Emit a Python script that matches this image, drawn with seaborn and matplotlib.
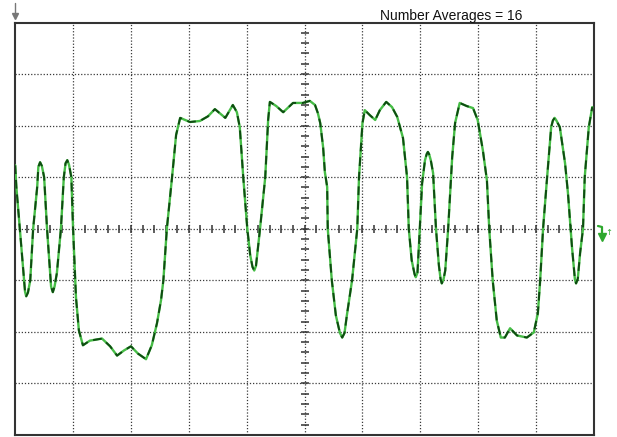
import numpy as np
import pandas as pd
import matplotlib
matplotlib.use("Agg")
import matplotlib.pyplot as plt
from matplotlib.lines import Line2D
import seaborn as sns

# Trace values (x in horizontal divisions 0..10, y in vertical divisions -4..4)
time_div = [0.00, 0.02, 0.08, 0.14, 0.17, 0.19, 0.22, 0.26, 0.31, 0.38,
            0.40, 0.43, 0.46, 0.50, 0.55, 0.60, 0.62, 0.65, 0.68, 0.72,
            0.79, 0.84, 0.87, 0.90, 0.93, 0.97, 1.00, 1.05,
            1.10, 1.17, 1.29, 1.50, 1.64, 1.76, 1.88, 2.00, 2.12, 2.26,
            2.36, 2.45, 2.52, 2.56, 2.62, 2.71, 2.78, 2.85, 3.02, 3.19,
            3.33, 3.45, 3.63, 3.76, 3.83, 3.88, 3.94, 4.01, 4.06, 4.10, 4.13,
            4.16, 4.18, 4.23, 4.32, 4.37, 4.40, 4.51, 4.63, 4.80, 4.97, 5.09,
            5.18, 5.23, 5.27, 5.32, 5.35, 5.39, 5.40, 5.47, 5.54, 5.61, 5.65,
            5.69, 5.73, 5.82, 5.91, 5.94, 6.00, 6.04, 6.13, 6.22, 6.30, 6.41,
            6.51, 6.60, 6.70, 6.77, 6.80, 6.85, 6.90, 6.92, 6.95, 6.98, 7.03, 7.08,
            7.11, 7.13, 7.15, 7.18, 7.22, 7.27, 7.32, 7.35, 7.37, 7.40, 7.43, 7.48, 7.55, 7.60,
            7.68, 7.80, 7.91, 7.99, 8.08, 8.15, 8.19, 8.25, 8.32, 8.39,
            8.46, 8.55, 8.67, 8.84, 8.96, 9.03, 9.07, 9.12, 9.19, 9.26,
            9.29, 9.32, 9.35, 9.41, 9.50, 9.55, 9.62, 9.67, 9.69, 9.72, 9.76, 9.81, 9.84, 9.91,
            9.97]
volt_div = [1.23, 0.81, 0.00, -0.81, -1.22, -1.31, -1.24, -1.00, 0.00, 0.81,
            1.20, 1.29, 1.22, 1.00, 0.00, -0.81, -1.12, -1.23, -1.12, -0.86,
            0.00, 1.00, 1.27, 1.33, 1.24, 1.00, 0.00, -1.33,
            -1.97, -2.26, -2.17, -2.13, -2.28, -2.46, -2.36, -2.28, -2.42, -2.53,
            -2.26, -1.83, -1.38, -1.00, 0.00, 1.00, 1.82, 2.15, 2.07, 2.09,
            2.18, 2.32, 2.15, 2.40, 2.26, 1.97, 1.00, 0.00, -0.51, -0.74, -0.81,
            -0.72, -0.51, 0.00, 1.00, 2.11, 2.46, 2.38, 2.26, 2.44, 2.44, 2.48,
            2.40, 2.24, 2.05, 1.58, 1.10, 0.81, 0.00, -1.00, -1.68, -2.02, -2.11,
            -2.02, -1.68, -1.00, 0.00, 1.00, 2.05, 2.30, 2.20, 2.11, 2.30, 2.46,
            2.36, 2.17, 1.76, 1.00, 0.00, -0.61, -0.88, -0.94, -0.85, -0.22, 0.88, 1.33,
            1.45, 1.49, 1.45, 1.33, 1.08, 0.00, -0.71, -0.98, -1.06, -0.98, -0.81, 0.00, 1.39, 2.05,
            2.44, 2.38, 2.34, 2.11, 1.52, 0.94, 0.00, -1.00, -1.78, -2.11,
            -2.11, -1.93, -2.07, -2.11, -2.01, -1.64, -1.00, 0.00, 1.00, 1.97,
            2.10, 2.15, 2.10, 1.97, 1.27, 0.69, -0.36, -0.98, -1.06, -0.97, -0.47, 0.00, 1.00, 1.97,
            2.36]

title_text = "Number Averages = 16"

sns.set_style("white")
plt.rcParams['font.family'] = ['Liberation Sans', 'DejaVu Sans']

df = pd.DataFrame({"t": time_div, "v": volt_div})

fig = plt.figure(figsize=(6.17, 4.37), dpi=100)
W, H = 617, 437
left, right, top, bottom = 15.2, 594.0, 22.5, 435.0
ax = fig.add_axes([left / W, 1 - bottom / H, (right - left) / W, (bottom - top) / H])

# graticule
grid_kw = dict(color="#3a3a3a", lw=0.9, ls=(0, (1, 1.5)), zorder=1)
for gx in range(1, 10):
    ax.axvline(gx, **grid_kw)
for gy in range(-3, 4):
    ax.axhline(gy, **grid_kw)

# minor ticks on the centre lines
tick_x = np.arange(0, 10.001, 0.2)
tick_y = np.arange(-4, 4.001, 0.2)
ax.scatter(tick_x, np.zeros_like(tick_x), marker="|", s=30, color="#333333", linewidths=1.1, zorder=2)
ax.scatter(np.full_like(tick_y, 5.0), tick_y, marker="_", s=40, color="#333333", linewidths=1.1, zorder=2)

# trace: light green underlay and dark green dashes
sns.lineplot(data=df, x="t", y="v", ax=ax, sort=False, estimator=None,
             color="#46bd46", lw=1.7, zorder=3)
ax.lines[-1].set_solid_joinstyle("round")
sns.lineplot(data=df, x="t", y="v", ax=ax, sort=False, estimator=None,
             color="#0f4a12", lw=1.4, zorder=4)
ax.lines[-1].set_dashes((4.5, 3))
ax.lines[-1].set_dash_joinstyle("round")

ax.set_xlim(0, 10)
ax.set_ylim(-4, 4)
ax.set_xticks([])
ax.set_yticks([])
ax.set_xlabel("")
ax.set_ylabel("")
for sp in ax.spines.values():
    sp.set_color("#333333")
    sp.set_linewidth(1.5)
    sp.set_visible(True)

# title
fig.text(380 / W, 1 - 20 / H, title_text, fontsize=10, color="#111111",
         ha="left", va="baseline")

# trigger-position arrow at top left
fig.add_artist(Line2D([15 / W, 15 / W], [1 - 3 / H, 1 - 14 / H], color="#777777", lw=1.0))
fig.add_artist(Line2D([15 / W], [1 - 16 / H], marker="v", markersize=4,
                      color="#777777", linestyle="none"))

# trigger level marker at right
fig.add_artist(Line2D([598 / W, 602 / W, 602 / W], [1 - 226 / H, 1 - 227 / H, 1 - 234 / H],
                      color="#2ea82e", lw=1.6))
fig.add_artist(Line2D([602 / W], [1 - 237 / H], marker="v", markersize=6,
                      color="#2ea82e", linestyle="none"))
fig.text(609 / W, 1 - 233 / H, "\u2191", fontsize=6, color="#2ea82e",
         ha="center", va="center", family=["DejaVu Sans"])

fig.savefig("out.png", dpi=100)
